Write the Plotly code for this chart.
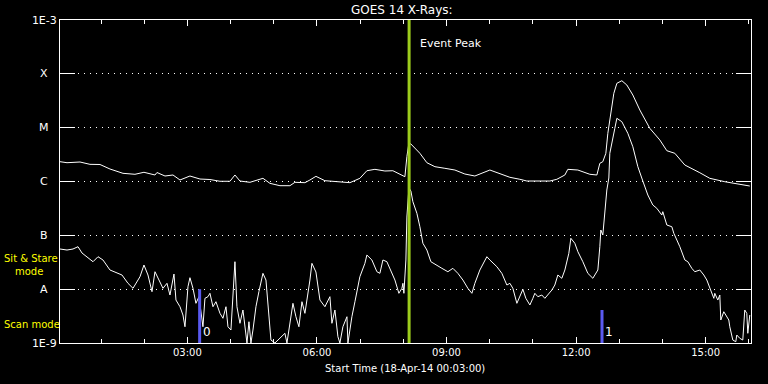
import numpy as np
import pandas as pd
import plotly.graph_objects as go

# ---- data (hour of day, log10 flux W/m^2) ----
long_hour = [0.050, 0.212, 0.513, 0.744, 0.976, 1.207, 1.508, 1.786, 1.994, 2.249, 2.295, 2.481, 2.666,
             2.828, 3.059, 3.291, 3.522, 3.754, 3.985, 4.101, 4.217, 4.448, 4.749, 4.911, 5.143, 5.374,
             5.490, 5.721, 5.837, 5.976, 6.184, 6.531, 6.763, 6.994, 7.156, 7.342, 7.573, 7.758, 7.920,
             8.036, 8.082, 8.129, 8.175, 8.383, 8.545, 8.731, 8.962, 9.194, 9.425, 9.656, 10.004, 10.235,
             10.467, 10.698, 10.860, 11.393, 11.555, 11.740, 11.809, 12.041, 12.319, 12.481, 12.550,
             12.619, 12.689, 12.735, 12.781, 12.828, 12.874, 12.944, 13.059, 13.175, 13.314, 13.476,
             13.707, 13.939, 14.101, 14.286, 14.518, 14.865, 15.096, 15.444, 15.791, 16.022]
long_log = [-5.632, -5.651, -5.638, -5.681, -5.684, -5.768, -5.848, -5.866, -5.829, -5.879, -5.833, -5.898,
            -5.879, -5.972, -5.898, -5.954, -5.963, -5.996, -5.996, -5.879, -5.991, -6.015, -5.941, -6.034,
            -6.078, -6.078, -6.015, -6.022, -5.972, -5.904, -5.985, -6.015, -6.022, -5.941, -5.800, -5.774,
            -5.805, -5.800, -5.866, -5.911, -5.539, -5.285, -5.304, -5.476, -5.651, -5.725, -5.755, -5.787,
            -5.861, -5.898, -5.787, -5.852, -5.922, -5.959, -5.991, -5.991, -5.959, -5.879, -5.774, -5.787,
            -5.866, -5.879, -5.662, -5.632, -5.476, -5.105, -4.858, -4.672, -4.362, -4.176, -4.128, -4.208,
            -4.393, -4.672, -5.012, -5.229, -5.428, -5.476, -5.694, -5.837, -5.941, -6.004, -6.052, -6.084]

short_hour = [0.050, 0.212, 0.351, 0.467, 0.559, 0.675, 0.814, 0.930, 1.045, 1.207, 1.369, 1.485, 1.624,
              1.740, 1.902, 1.994, 2.087, 2.180, 2.249, 2.365, 2.434, 2.527, 2.596, 2.689, 2.735, 2.828,
              2.897, 2.944, 3.013, 3.059, 3.129, 3.198, 3.268, 3.360, 3.406, 3.476, 3.522, 3.592, 3.661,
              3.754, 3.823, 3.893, 3.939, 4.008, 4.101, 4.147, 4.217, 4.286, 4.332, 4.379, 4.425, 4.471,
              4.518, 4.587, 4.656, 4.749, 4.819, 4.888, 4.934, 5.027, 5.258, 5.305, 5.444, 5.513, 5.582,
              5.652, 5.721, 5.837, 5.883, 5.976, 6.069, 6.184, 6.300, 6.346, 6.416, 6.485, 6.531, 6.601,
              6.694, 6.717, 6.809, 6.879, 6.925, 6.994, 7.110, 7.156, 7.272, 7.388, 7.457, 7.527, 7.619,
              7.689, 7.805, 7.897, 7.967, 7.990, 8.013, 8.059, 8.082, 8.129, 8.175, 8.221, 8.314, 8.383,
              8.453, 8.545, 8.638, 8.893, 9.031, 9.147, 9.263, 9.379, 9.494, 9.587, 9.656, 9.772, 9.934,
              10.004, 10.166, 10.281, 10.397, 10.467, 10.536, 10.629, 10.698, 10.768, 10.837, 10.930,
              10.999, 11.045, 11.115, 11.207, 11.277, 11.346, 11.439, 11.508, 11.578, 11.670, 11.740,
              11.832, 11.879, 11.971, 12.041, 12.156, 12.272, 12.388, 12.504, 12.550, 12.573, 12.619,
              12.666, 12.712, 12.758, 12.781, 12.897, 12.944, 13.059, 13.129, 13.198, 13.314, 13.430,
              13.545, 13.661, 13.777, 13.869, 13.985, 14.008, 14.101, 14.217, 14.263, 14.402, 14.518,
              14.587, 14.680, 14.749, 14.865, 14.957, 15.027, 15.096, 15.189, 15.212, 15.281, 15.328,
              15.351, 15.420, 15.467, 15.536, 15.559, 15.629, 15.698, 15.721, 15.791, 15.860, 15.906,
              15.953, 15.976, 15.999, 16.022]
short_log = [-7.254, -7.273, -7.254, -7.211, -7.328, -7.397, -7.490, -7.397, -7.458, -7.644, -7.694, -7.737,
             -7.891, -7.984, -7.769, -7.551, -7.737, -8.047, -7.676, -7.891, -7.984, -7.891, -8.109, -7.719,
             -8.202, -8.326, -8.480, -8.698, -7.955, -7.787, -7.984, -8.263, -8.140, -8.698, -8.170, -8.140,
             -8.077, -8.326, -8.233, -8.449, -8.541, -8.326, -8.698, -8.759, -7.490, -8.326, -8.634, -8.387,
             -8.759, -9.000, -8.605, -9.000, -8.759, -8.326, -8.047, -7.706, -7.830, -8.449, -8.945, -9.000,
             -8.820, -9.000, -8.263, -8.512, -8.698, -8.233, -8.449, -7.830, -7.520, -7.681, -8.202, -8.326,
             -8.140, -8.634, -8.387, -8.883, -9.000, -8.698, -8.512, -9.000, -8.512, -8.233, -8.016, -7.769,
             -7.520, -7.366, -7.458, -7.676, -7.706, -7.458, -7.490, -7.613, -7.830, -8.077, -7.984, -7.891,
             -8.077, -7.458, -6.660, -6.121, -6.177, -6.375, -6.591, -6.840, -7.148, -7.273, -7.490, -7.613,
             -7.676, -7.613, -7.706, -7.830, -7.984, -8.077, -7.891, -7.644, -7.397, -7.458, -7.583, -7.706,
             -7.923, -7.891, -7.984, -8.263, -8.140, -8.003, -8.170, -8.294, -8.170, -8.077, -8.140, -8.109,
             -8.170, -8.109, -8.016, -7.923, -7.737, -7.798, -7.644, -7.334, -7.055, -7.148, -7.304, -7.490,
             -7.706, -7.798, -7.644, -7.211, -6.901, -6.994, -6.530, -6.158, -5.935, -5.476, -5.012, -4.826,
             -4.889, -5.012, -5.105, -5.354, -5.725, -5.991, -6.251, -6.437, -6.498, -6.623, -6.561, -6.808,
             -6.840, -6.962, -7.211, -7.458, -7.490, -7.613, -7.676, -7.644, -7.737, -7.830, -7.984, -8.170,
             -8.077, -8.202, -8.109, -8.573, -8.419, -8.480, -8.573, -8.698, -8.945, -8.976, -8.852, -8.913,
             -8.945, -8.387, -8.449, -8.820, -8.573, -8.480]

event_peak = "2014-04-18 08:08"
mode_time = ["2014-04-18 03:17", "2014-04-18 12:36"]
mode_top = [1.0e-8, 4.1e-9]
mode_label = ["0", "1"]

y_tickvals = [1e-9, 1e-8, 1e-7, 1e-6, 1e-5, 1e-4, 1e-3]
y_ticktext = ["1E-9", "A", "B", "C", "M", "X", "1E-3"]
x_tickvals = ["2014-04-18 03:00", "2014-04-18 06:00", "2014-04-18 09:00",
              "2014-04-18 12:00", "2014-04-18 15:00"]
x_ticktext = ["03:00", "06:00", "09:00", "12:00", "15:00"]

base = pd.Timestamp("2014-04-18")
def to_time(h):
    return base + pd.to_timedelta(np.array(h), unit="h")

FONT = "DejaVu Sans"
fig = go.Figure()

fig.add_trace(go.Scatter(x=to_time(long_hour), y=10 ** np.array(long_log), mode="lines",
                         line=dict(color="white", width=1), showlegend=False))
fig.add_trace(go.Scatter(x=to_time(short_hour), y=10 ** np.array(short_log), mode="lines",
                         line=dict(color="white", width=1), showlegend=False))

for t, top, lab in zip(mode_time, mode_top, mode_label):
    fig.add_trace(go.Scatter(x=[t, t], y=[1e-9, top], mode="lines",
                             line=dict(color="#5a5af0", width=3), showlegend=False))
    fig.add_annotation(x=t, xref="x", y=0, yref="paper", text=lab, showarrow=False,
                       xanchor="left", yanchor="bottom", xshift=1, yshift=2,
                       font=dict(color="white", size=12, family=FONT))

fig.add_shape(type="line", x0=event_peak, x1=event_peak, xref="x", y0=0, y1=1, yref="paper",
              line=dict(color="#9ccc1c", width=3))
fig.add_annotation(x=event_peak, xref="x", y=(343 - 43) / 323, yref="paper", text="Event Peak",
                   showarrow=False, xanchor="left", yanchor="middle", xshift=9,
                   font=dict(color="white", size=11, family=FONT))

# letter class labels
for v, t in zip(y_tickvals[1:-1], y_ticktext[1:-1]):
    fig.add_annotation(x=(44 - 60) / 691, xref="paper", y=np.log10(v), yref="y", text=t,
                       showarrow=False, xanchor="center", yanchor="middle",
                       font=dict(color="white", size=11, family=FONT))

fig.add_annotation(x=(2 - 60) / 691, xref="paper", y=(343 - 258) / 323, yref="paper",
                   text="Sit & Stare", showarrow=False, xanchor="left", yanchor="middle",
                   font=dict(color="#ffff00", size=10, family=FONT))
fig.add_annotation(x=(13 - 60) / 691, xref="paper", y=(343 - 271) / 323, yref="paper",
                   text="mode", showarrow=False, xanchor="left", yanchor="middle",
                   font=dict(color="#ffff00", size=10, family=FONT))
fig.add_annotation(x=(2 - 60) / 691, xref="paper", y=(343 - 324) / 323, yref="paper",
                   text="Scan mode", showarrow=False, xanchor="left", yanchor="middle",
                   font=dict(color="#ffff00", size=10, family=FONT))

fig.add_annotation(x=(402 - 60) / 691, xref="paper", y=(343 - 10) / 323, yref="paper",
                   text="GOES 14 X-Rays:", showarrow=False, xanchor="center", yanchor="middle",
                   font=dict(color="white", size=12, family=FONT))
fig.add_annotation(x=(405 - 60) / 691, xref="paper", y=(343 - 368) / 323, yref="paper",
                   text="Start Time (18-Apr-14 00:03:00)", showarrow=False, xanchor="center",
                   yanchor="middle", font=dict(color="white", size=10, family=FONT))

fig.update_layout(
    width=768, height=384,
    margin=dict(l=60, r=17, t=20, b=41),
    paper_bgcolor="black", plot_bgcolor="black",
    font=dict(family=FONT, color="white", size=10),
    showlegend=False,
    xaxis=dict(
        type="date",
        range=["2014-04-18 00:03", "2014-04-18 16:03"],
        tickvals=x_tickvals, ticktext=x_ticktext,
        ticks="inside", ticklen=6, tickcolor="white", tickwidth=1,
        showline=True, linecolor="white", linewidth=1, mirror="allticks",
        showgrid=False, zeroline=False,
        tickfont=dict(color="white", size=10, family=FONT),
        minor=dict(dtick=3600000, tick0="2014-04-18 00:00", ticks="inside", ticklen=4,
                   tickcolor="white", showgrid=False),
    ),
    yaxis=dict(
        type="log", range=[-9, -3],
        tickvals=y_tickvals, ticktext=["1E-9", "", "", "", "", "", "1E-3"],
        ticks="inside", ticklen=15, tickcolor="white", tickwidth=1,
        showline=True, linecolor="white", linewidth=1, mirror="allticks",
        showgrid=True, gridcolor="white", gridwidth=1, griddash="1px,5px",
        zeroline=False,
        tickfont=dict(color="white", size=11, family=FONT),
    ),
)

fig.write_html("out.html")
